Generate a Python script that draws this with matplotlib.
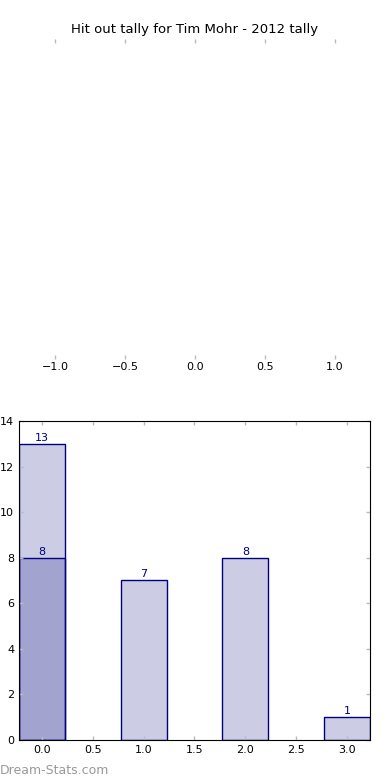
import matplotlib
matplotlib.use('Agg')
import matplotlib.pyplot as plt

# datos
posiciones = [0, 1, 2, 3]
tally = [13, 7, 8, 1]
pos_extra = [0]
tally_extra = [8]
titulo = 'Hit out tally for Tim Mohr - 2012 tally'

fig = plt.figure(figsize=(3.9, 7.8), dpi=100)

# eje superior vacio
ax1 = fig.add_axes([0.141, 1 - 359 / 780, 0.718, 320 / 780])
ax1.set_xlim(-1, 1)
ax1.set_ylim(-1, 1)
for s in ax1.spines.values():
    s.set_visible(False)
ax1.set_xticks([-1.0, -0.5, 0.0, 0.5, 1.0])
ax1.set_yticks([])
ax1.tick_params(axis='x', direction='in', top=True, bottom=True, color='#bbbbbb',
                length=3, width=1, labelsize=8, pad=2)
ax1.set_title(titulo, fontsize=9.5, pad=4)

# barras
ax2 = fig.add_axes([0.0487, 0.0513, 0.9, 0.409])
ax2.bar(posiciones, tally, width=0.45, color='navy', alpha=0.2)
ax2.bar(posiciones, tally, width=0.45, facecolor='none', edgecolor='navy', linewidth=1)
ax2.bar(pos_extra, tally_extra, width=0.45, color='navy', alpha=0.2)
ax2.bar(pos_extra, tally_extra, width=0.45, facecolor='none', edgecolor='navy', linewidth=1)
for x, v in zip(posiciones, tally):
    ax2.text(x, v + 0.05, str(v), ha='center', va='bottom', color='navy', fontsize=8)
for x, v in zip(pos_extra, tally_extra):
    ax2.text(x, v + 0.05, str(v), ha='center', va='bottom', color='navy', fontsize=8)
ax2.set_xlim(-0.225, 3.225)
ax2.set_ylim(0, 14)
ax2.set_xticks([0, 0.5, 1.0, 1.5, 2.0, 2.5, 3.0])
ax2.set_yticks(range(0, 15, 2))
ax2.tick_params(direction='in', top=True, right=True, color='#bbbbbb',
                length=3, width=1, labelsize=8)

fig.text(0.0, 0.008, 'Dream-Stats.com', color='#999999', fontsize=9)

plt.savefig('out.png', dpi=100)
